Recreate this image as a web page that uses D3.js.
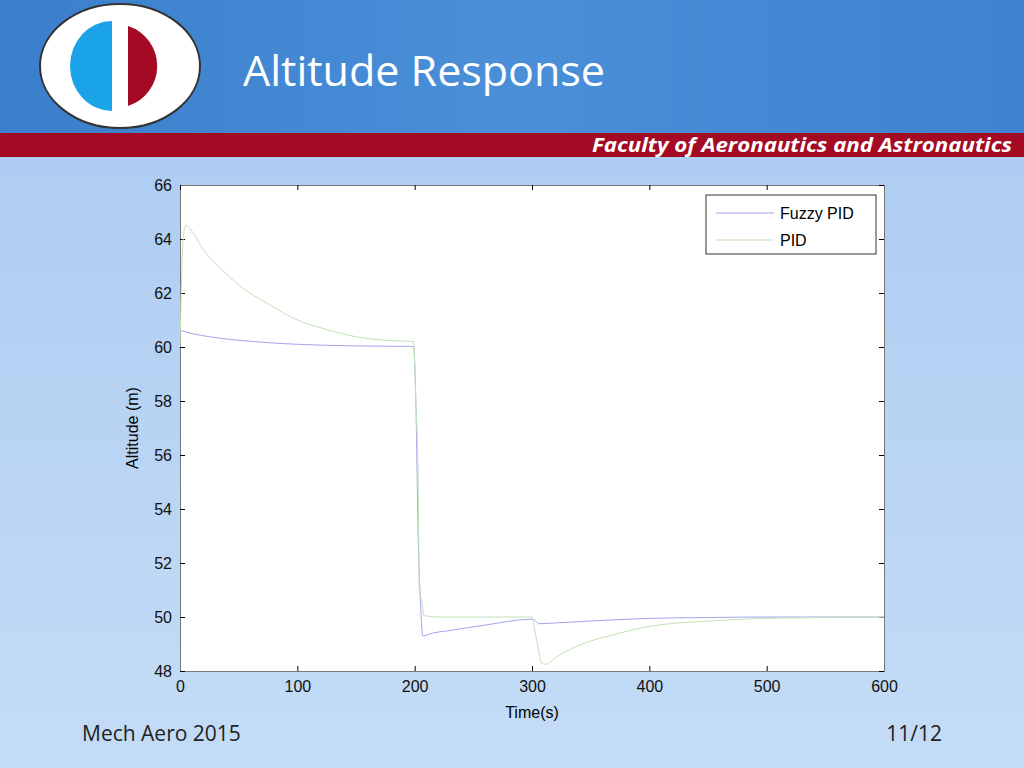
<!DOCTYPE html>
<html>
<head>
<meta charset="utf-8">
<script src="https://cdn.jsdelivr.net/npm/d3@7"></script>
<style>
  body { margin: 0; }
  svg { display: block; }
</style>
</head>
<body>
<script>
// time (s) and altitude (m)
const fuzzyT = [0, 10, 25, 50, 75, 100, 150, 199, 201, 203, 205, 207, 215, 230, 260, 300, 303, 306, 320, 350, 400, 450, 500, 550, 600];
const fuzzyY = [60.62, 60.5, 60.38, 60.25, 60.16, 60.1, 60.04, 60.02, 58, 53, 50.5, 49.3, 49.4, 49.5, 49.7, 49.92, 49.85, 49.75, 49.78, 49.85, 49.95, 49.98, 50, 50, 50];
const pidT = [0, 1, 3, 5, 10, 20, 35, 50, 75, 100, 125, 150, 175, 199, 201, 203, 204, 206, 208, 220, 260, 300, 302, 305, 308, 312, 320, 340, 370, 400, 450, 500, 550, 600];
const pidY = [60, 62, 64.2, 64.5, 64.3, 63.6, 62.9, 62.3, 61.6, 61.0, 60.65, 60.38, 60.25, 60.2, 58, 55, 51, 50.6, 50.05, 50.0, 50.0, 50.0, 49.6, 48.9, 48.3, 48.25, 48.5, 48.95, 49.35, 49.65, 49.85, 49.95, 49.98, 50];
const xTicks = [0, 100, 200, 300, 400, 500, 600];
const yTicks = [48, 50, 52, 54, 56, 58, 60, 62, 64, 66];
const legendNames = ['Fuzzy PID', 'PID'];
const lineColors = ['#a4a4ec', '#c2e2b8'];

const W = 1024, H = 768;
const svg = d3.select('body').append('svg').attr('width', W).attr('height', H);
const defs = svg.append('defs');

const bg = defs.append('linearGradient').attr('id', 'bg').attr('x1', 0).attr('y1', 0).attr('x2', 0).attr('y2', 1);
bg.append('stop').attr('offset', 0).attr('stop-color', '#a9c9f1');
bg.append('stop').attr('offset', 1).attr('stop-color', '#c4dcf6');
svg.append('rect').attr('width', W).attr('height', H).attr('fill', 'url(#bg)');

const hd = defs.append('linearGradient').attr('id', 'hd').attr('x1', 0).attr('y1', 0).attr('x2', 1).attr('y2', 0);
hd.append('stop').attr('offset', 0).attr('stop-color', '#3b7fcc');
hd.append('stop').attr('offset', 0.5).attr('stop-color', '#4a8fd8');
hd.append('stop').attr('offset', 1).attr('stop-color', '#3f82cf');
svg.append('rect').attr('width', W).attr('height', 133).attr('fill', 'url(#hd)');
svg.append('rect').attr('y', 133).attr('width', W).attr('height', 24).attr('fill', '#a40a24');
svg.append('text').attr('x', 592).attr('y', 152).attr('textLength', 420).attr('lengthAdjust', 'spacingAndGlyphs')
  .attr('fill', '#fff').attr('font-family', 'Open Sans').attr('font-weight', 'bold').attr('font-style', 'italic')
  .attr('font-size', 20).text('Faculty of Aeronautics and Astronautics');
svg.append('text').attr('x', 243).attr('y', 86).attr('textLength', 362).attr('lengthAdjust', 'spacingAndGlyphs')
  .attr('fill', '#fff').attr('font-family', 'Open Sans').attr('font-size', 42).text('Altitude Response');

// logo
const logo = svg.append('g').attr('transform', 'translate(120,66)');
logo.append('ellipse').attr('rx', 80).attr('ry', 62).attr('fill', '#fff').attr('stroke', '#333').attr('stroke-width', 2);
logo.append('path').attr('d', 'M-8,-45 A42,45 0 0,0 -8,45 Z').attr('fill', '#1aa3e6');
logo.append('path').attr('d', 'M8,-40 A42,42 0 0,1 8,40 Z').attr('fill', '#a40a24');

// footer
svg.append('text').attr('x', 82).attr('y', 741).attr('font-family', 'Open Sans').attr('font-size', 21).attr('fill', '#222').text('Mech Aero 2015');
svg.append('text').attr('x', 942).attr('y', 741).attr('text-anchor', 'end').attr('font-family', 'Open Sans').attr('font-size', 21).attr('fill', '#222').text('11/12');

// chart
const x = d3.scaleLinear().domain([0, 600]).range([180, 884]);
const y = d3.scaleLinear().domain([48, 66]).range([671, 185]);
svg.append('rect').attr('x', 180).attr('y', 185).attr('width', 704).attr('height', 486).attr('fill', '#fff');

const font = 'Liberation Sans, Arial, sans-serif';
svg.append('g').attr('transform', 'translate(0,671)')
  .call(d3.axisBottom(x).tickValues(xTicks).tickSize(-5).tickPadding(10));
svg.append('g').attr('transform', 'translate(180,0)')
  .call(d3.axisLeft(y).tickValues(yTicks).tickSize(-5).tickPadding(8));
svg.append('g').attr('transform', 'translate(0,185)').call(d3.axisTop(x).tickValues(xTicks).tickSize(-5).tickFormat(''));
svg.append('g').attr('transform', 'translate(884,0)').call(d3.axisRight(y).tickValues(yTicks).tickSize(-5).tickFormat(''));
svg.selectAll('.domain').attr('stroke', '#777');
svg.selectAll('.tick line').attr('stroke', '#000');
svg.selectAll('.tick text').attr('font-family', font).attr('font-size', 16).attr('fill', '#111');

svg.append('text').attr('x', 532).attr('y', 718).attr('text-anchor', 'middle').attr('font-family', font).attr('font-size', 16).text('Time(s)');
svg.append('text').attr('transform', 'translate(138,428) rotate(-90)').attr('text-anchor', 'middle')
  .attr('font-family', font).attr('font-size', 16).text('Altitude (m)');

const line = d3.line().curve(d3.curveMonotoneX).x(d => x(d[0])).y(d => y(d[1]));
const series = [d3.zip(fuzzyT, fuzzyY), d3.zip(pidT, pidY)];
svg.append('g').selectAll('path').data(series).enter().append('path')
  .attr('d', line).attr('fill', 'none').attr('stroke-width', 1)
  .attr('stroke', (d, i) => lineColors[i]);

// legend
const lg = svg.append('g').attr('transform', 'translate(706,195)');
lg.append('rect').attr('width', 170).attr('height', 59).attr('fill', '#fff').attr('stroke', '#333');
lg.selectAll('line').data(legendNames).enter().append('line')
  .attr('x1', 10).attr('x2', 68).attr('y1', (d, i) => 18 + i * 27).attr('y2', (d, i) => 18 + i * 27)
  .attr('stroke', (d, i) => lineColors[i]).attr('stroke-width', 1);
lg.selectAll('text').data(legendNames).enter().append('text')
  .attr('x', 74).attr('y', (d, i) => 24 + i * 27).attr('font-family', font).attr('font-size', 16).text(d => d);
</script>
</body>
</html>
